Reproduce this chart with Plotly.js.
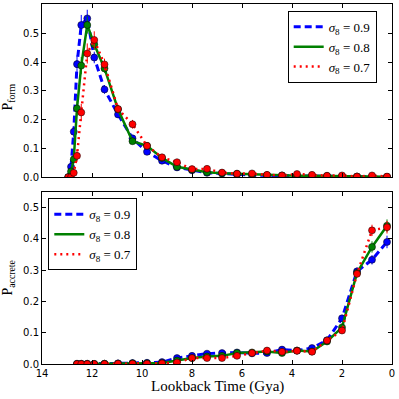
<!DOCTYPE html>
<html>
<head>
<meta charset="utf-8">
<script src="https://cdn.plot.ly/plotly-3.0.1.min.js"></script>
<style>html,body{margin:0;padding:0;background:#fff;}#chart{width:399px;height:399px;}</style>
</head>
<body>
<div id="chart"></div>
<script>
// ---- Data ----
var timesForm = [12.95, 12.84, 12.73, 12.6, 12.43, 12.19, 11.91, 11.5, 10.96, 10.38, 9.8, 9.2, 8.6, 8.0, 7.4, 6.8, 6.2, 5.6, 5.0, 4.4, 3.8, 3.2, 2.6, 2.0, 1.4, 0.8, 0.2];
var formS09 = [0.0, 0.036, 0.158, 0.393, 0.529, 0.552, 0.416, 0.305, 0.218, 0.135, 0.088, 0.057, 0.034, 0.024, 0.015, 0.013, 0.009, 0.007, 0.006, 0.005, 0.004, 0.003, 0.003, 0.002, 0.002, 0.001, 0.001];
var formS08 = [0.0, 0.02, 0.062, 0.239, 0.388, 0.529, 0.462, 0.378, 0.236, 0.125, 0.109, 0.067, 0.036, 0.026, 0.017, 0.014, 0.012, 0.009, 0.007, 0.006, 0.005, 0.005, 0.004, 0.003, 0.002, 0.002, 0.001];
var formS07 = [0.0, 0.0, 0.015, 0.074, 0.225, 0.430, 0.477, 0.392, 0.237, 0.184, 0.109, 0.069, 0.052, 0.028, 0.029, 0.016, 0.012, 0.013, 0.008, 0.006, 0.011, 0.008, 0.005, 0.006, 0.002, 0.006, 0.002];
var formErr09 = [0.003, 0.01, 0.02, 0.03, 0.035, 0.03, 0.02, 0.015, 0.012, 0.01, 0.008, 0.006, 0.005, 0.004, 0.003, 0.003, 0.002, 0.002, 0.002, 0.002, 0.002, 0.002, 0.002, 0.002, 0.002, 0.002, 0.002];
var formErr08 = [0.003, 0.008, 0.015, 0.025, 0.03, 0.03, 0.02, 0.015, 0.012, 0.01, 0.008, 0.006, 0.005, 0.004, 0.003, 0.003, 0.002, 0.002, 0.002, 0.002, 0.002, 0.002, 0.002, 0.002, 0.002, 0.002, 0.002];
var formErr07 = [0.003, 0.005, 0.01, 0.02, 0.03, 0.035, 0.03, 0.02, 0.015, 0.015, 0.01, 0.008, 0.006, 0.005, 0.004, 0.003, 0.003, 0.003, 0.002, 0.002, 0.003, 0.002, 0.002, 0.002, 0.002, 0.002, 0.002];

var timesAccrete = [12.6, 12.43, 12.19, 11.91, 11.5, 10.96, 10.38, 9.8, 9.2, 8.6, 8.0, 7.4, 6.8, 6.2, 5.6, 5.0, 4.4, 3.8, 3.2, 2.6, 2.0, 1.4, 0.8, 0.2];
var accS09 = [0.001, 0.001, 0.001, 0.0, 0.001, 0.002, 0.003, 0.004, 0.006, 0.019, 0.026, 0.033, 0.035, 0.037, 0.034, 0.035, 0.046, 0.043, 0.051, 0.076, 0.146, 0.296, 0.333, 0.39];
var accS08 = [0.0, 0.0, 0.0, 0.0, 0.001, 0.001, 0.002, 0.002, 0.003, 0.011, 0.019, 0.024, 0.026, 0.035, 0.037, 0.04, 0.035, 0.043, 0.04, 0.072, 0.117, 0.291, 0.374, 0.442];
var accS07 = [0.0, 0.0, 0.0, 0.0, 0.0, 0.001, 0.001, 0.001, 0.002, 0.005, 0.019, 0.019, 0.019, 0.026, 0.035, 0.043, 0.039, 0.042, 0.039, 0.075, 0.107, 0.288, 0.427, 0.437];
var accErr09 = [0.002, 0.002, 0.002, 0.002, 0.002, 0.002, 0.002, 0.003, 0.003, 0.004, 0.005, 0.005, 0.005, 0.005, 0.005, 0.005, 0.006, 0.006, 0.006, 0.008, 0.01, 0.012, 0.015, 0.02];
var accErr08 = [0.002, 0.002, 0.002, 0.002, 0.002, 0.002, 0.002, 0.003, 0.003, 0.004, 0.004, 0.005, 0.005, 0.005, 0.005, 0.005, 0.006, 0.006, 0.006, 0.008, 0.012, 0.012, 0.018, 0.02];
var accErr07 = [0.002, 0.002, 0.002, 0.002, 0.002, 0.002, 0.002, 0.003, 0.003, 0.004, 0.004, 0.005, 0.005, 0.005, 0.005, 0.005, 0.006, 0.006, 0.006, 0.008, 0.01, 0.012, 0.018, 0.02];

var seriesNames = ['<i>σ</i><sub>8</sub> = 0.9', '<i>σ</i><sub>8</sub> = 0.8', '<i>σ</i><sub>8</sub> = 0.7'];
var xTickVals = [14, 12, 10, 8, 6, 4, 2, 0];
var yTickVals = [0.0, 0.1, 0.2, 0.3, 0.4, 0.5];

// ---- Styles ----
var colors = ['#0000ff', '#008000', '#ff0000'];
var dashes = ['7px,4px', 'solid', '2px,4px'];
var widths = [3, 2.5, 2.5];

function addSeries(traces, x, y, err, i, xa, ya, leg) {
  traces.push({
    x: x, y: y, type: 'scatter', mode: 'lines', xaxis: xa, yaxis: ya,
    name: seriesNames[i], legend: leg, showlegend: true,
    line: {color: colors[i], width: widths[i], dash: dashes[i]},
    hoverinfo: 'skip'
  });
  traces.push({
    x: x, y: y, type: 'scatter', mode: 'markers', xaxis: xa, yaxis: ya,
    showlegend: false, legend: leg,
    marker: {color: colors[i], size: 7, line: {color: '#000', width: 0.5}},
    error_y: {type: 'data', array: err, visible: true, color: colors[i], thickness: 1, width: 0},
    hoverinfo: 'skip'
  });
}

var traces = [];
addSeries(traces, timesForm, formS09, formErr09, 0, 'x', 'y', 'legend');
addSeries(traces, timesForm, formS08, formErr08, 1, 'x', 'y', 'legend');
addSeries(traces, timesForm, formS07, formErr07, 2, 'x', 'y', 'legend');
addSeries(traces, timesAccrete, accS09, accErr09, 0, 'x2', 'y2', 'legend2');
addSeries(traces, timesAccrete, accS08, accErr08, 1, 'x2', 'y2', 'legend2');
addSeries(traces, timesAccrete, accS07, accErr07, 2, 'x2', 'y2', 'legend2');

var tickFont = {family: 'DejaVu Sans', size: 10, color: '#000'};
function xAxis(anchor, labels) {
  return {
    anchor: anchor, domain: [0, 1], range: [14, 0], tickvals: xTickVals,
    showticklabels: labels, ticks: 'inside', ticklen: 4, tickcolor: '#000', tickwidth: 1,
    mirror: 'allticks', showline: true, linecolor: '#000', linewidth: 1,
    showgrid: false, zeroline: false, tickfont: tickFont
  };
}
function yAxis(anchor, domain, top) {
  return {
    anchor: anchor, domain: domain, range: [0, top], tickvals: yTickVals, tickformat: '.1f',
    ticks: 'inside', ticklen: 4, tickcolor: '#000', tickwidth: 1,
    mirror: 'allticks', showline: true, linecolor: '#000', linewidth: 1,
    showgrid: false, zeroline: false, tickfont: tickFont
  };
}

var serif = 'Liberation Serif, DejaVu Serif, serif';
var legendBase = {
  bgcolor: '#fff', bordercolor: '#000', borderwidth: 1,
  font: {family: serif, size: 13, color: '#000'},
  xanchor: 'left', yanchor: 'top', tracegroupgap: 0, itemwidth: 30
};

var layout = {
  width: 399, height: 399,
  margin: {l: 42, r: 7, t: 4, b: 35},
  paper_bgcolor: '#fff', plot_bgcolor: '#fff',
  xaxis: xAxis('y', false),
  yaxis: yAxis('x', [0.519, 1], 0.602),
  xaxis2: xAxis('y2', true),
  yaxis2: yAxis('x2', [0, 0.479], 0.551),
  legend: Object.assign({}, legendBase, {x: 0.702, y: 0.981}),
  legend2: Object.assign({}, legendBase, {x: 0.018, y: 0.46}),
  annotations: [
    {text: 'P<sub>form</sub>', xref: 'paper', yref: 'paper', x: 0, y: 0.74, xanchor: 'center', yanchor: 'middle',
     xshift: -33, textangle: -90, showarrow: false, font: {family: serif, size: 14, color: '#000'}},
    {text: 'P<sub>accrete</sub>', xref: 'paper', yref: 'paper', x: 0, y: 0.24, xanchor: 'center', yanchor: 'middle',
     xshift: -33, textangle: -90, showarrow: false, font: {family: serif, size: 14, color: '#000'}},
    {text: 'Lookback Time (Gya)', xref: 'paper', yref: 'paper', x: 0.5, y: 0, xanchor: 'center', yanchor: 'middle',
     yshift: -22, showarrow: false, font: {family: serif, size: 15, color: '#000'}}
  ],
  showlegend: true
};

Plotly.newPlot('chart', traces, layout, {displayModeBar: false, staticPlot: true});
</script>
</body>
</html>
